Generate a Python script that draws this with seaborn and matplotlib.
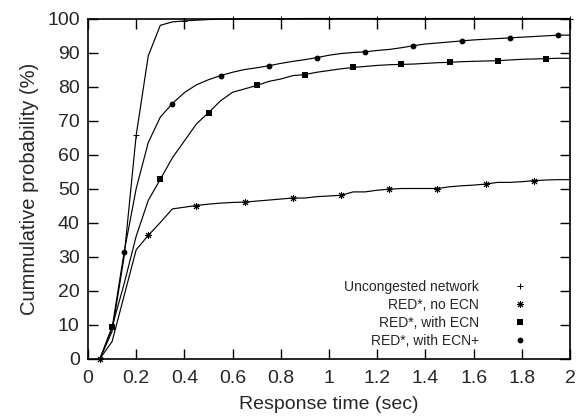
import numpy as np
import pandas as pd
import matplotlib
matplotlib.use("Agg")
import matplotlib.pyplot as plt
from matplotlib.lines import Line2D
import seaborn as sns

# Data (response time grid, 0.05 s steps)
time_sec = [round(0.05 * i, 2) for i in range(1, 41)]

uncongested = [0, 8, 30, 65.7, 89, 98, 99, 99.3, 99.5, 99.7,
               99.8, 99.85, 99.9, 99.9, 99.9, 99.95, 99.95, 100, 100, 100,
               100, 100, 100, 100, 100, 100, 100, 100, 100, 100,
               100, 100, 100, 100, 100, 100, 100, 100, 100, 100]
red_no_ecn = [0, 5, 18.5, 32, 36.2, 40, 44, 44.5, 45, 45.4,
              45.7, 45.9, 46, 46.3, 46.6, 46.9, 47.2, 47.2, 47.6, 47.8,
              48, 49, 49, 49.5, 49.8, 50, 50, 50, 50, 50.5,
              50.8, 51, 51.3, 51.8, 51.8, 52, 52.3, 52.5, 52.6, 52.6]
red_ecn = [0, 9.3, 22, 36, 46.5, 52.7, 59, 64, 69, 72.3,
           75.8, 78.3, 79.3, 80.3, 81.5, 82.2, 83.2, 83.5, 84.2, 84.7,
           85.2, 85.6, 85.9, 86.2, 86.4, 86.5, 86.6, 86.8, 87, 87.1,
           87.3, 87.4, 87.5, 87.6, 87.8, 88, 88.1, 88.2, 88.3, 88.3]
red_ecn_plus = [0, 9, 31.3, 50, 63.5, 71, 75, 78.2, 80.5, 82,
                83.2, 84.2, 85, 85.5, 86.1, 86.8, 87.4, 87.9, 88.5, 89.2,
                89.7, 90, 90.2, 90.6, 90.9, 91.4, 92, 92.5, 92.8, 93.1,
                93.4, 93.7, 93.9, 94.1, 94.3, 94.5, 94.7, 94.9, 95.1, 95.1]

series_names = ["Uncongested network", "RED*, no ECN", "RED*, with ECN", "RED*, with ECN+"]
series_values = [uncongested, red_no_ecn, red_ecn, red_ecn_plus]

x_ticks = [0, 0.2, 0.4, 0.6, 0.8, 1, 1.2, 1.4, 1.6, 1.8, 2]
x_tick_labels = ["0", "0.2", "0.4", "0.6", "0.8", "1", "1.2", "1.4", "1.6", "1.8", "2"]
y_ticks = list(range(0, 101, 10))

df = pd.concat([pd.DataFrame({"time": time_sec, "prob": v, "series": n})
                for n, v in zip(series_names, series_values)], ignore_index=True)

sns.set_style("ticks")
plt.rcParams["font.family"] = ["Liberation Sans", "DejaVu Sans"]
plt.rcParams["xtick.direction"] = "in"
plt.rcParams["ytick.direction"] = "in"

W, H = 576, 417
fig = plt.figure(figsize=(W / 100, H / 100), dpi=100)
ax_l, ax_r, ax_t, ax_b = 88, 570, 18.5, 358.5
ax = fig.add_axes([ax_l / W, 1 - ax_b / H, (ax_r - ax_l) / W, (ax_b - ax_t) / H])

styles = {
    "Uncongested network": dict(marker="+", ms=4.8, mew=0.7, start=3),
    "RED*, no ECN": dict(marker=(8, 2, 0), ms=5.0, mew=0.7, start=0),
    "RED*, with ECN": dict(marker="s", ms=5.0, mew=0, start=1),
    "RED*, with ECN+": dict(marker="o", ms=4.2, mew=0, start=2),
}

for name in series_names:
    st = styles[name]
    sub = df[df["series"] == name]
    sns.lineplot(data=sub, x="time", y="prob", ax=ax, color="black", lw=0.85,
                 marker=st["marker"], markersize=st["ms"], markeredgewidth=st["mew"],
                 markerfacecolor="black", markeredgecolor="black",
                 markevery=slice(st["start"], None, 4), legend=False,
                 estimator=None, sort=False, clip_on=False)

ax.set_xlim(0, 2)
ax.set_ylim(0, 100)
ax.set_xticks(x_ticks)
ax.set_xticklabels(x_tick_labels)
ax.set_yticks(y_ticks)
ax.tick_params(axis="both", which="both", direction="in", length=7, width=1,
               top=True, right=True, labelsize=14, color="black")
ax.tick_params(axis="x", pad=8)
ax.tick_params(axis="y", pad=6)
for sp in ax.spines.values():
    sp.set_visible(True)
    sp.set_linewidth(1.2)
    sp.set_color("black")

ax.set_xlabel("Response time (sec)", fontsize=14, labelpad=7)
ax.set_ylabel("Cummulative probability (%)", fontsize=14.5, labelpad=6)

handles = []
for name in series_names:
    st = styles[name]
    handles.append(Line2D([], [], linestyle="none", marker=st["marker"], markersize=st["ms"],
                          markeredgewidth=st["mew"], markerfacecolor="black",
                          markeredgecolor="black", color="black"))
fs_leg = 10
em = fs_leg * 100 / 72.0
hl = 1.0
anchor_x = (520 + hl * em / 2 - ax_l) / (ax_r - ax_l)
leg = ax.legend(handles, series_names, loc="lower right", markerfirst=False,
                frameon=False, fontsize=fs_leg, handlelength=hl,
                handletextpad=(520 - hl * em / 2 - 479) / em,
                labelspacing=0.3, borderpad=0, borderaxespad=0,
                bbox_to_anchor=(anchor_x, (358.5 - 348) / (ax_b - ax_t)))

fig.savefig("out.png", dpi=100)
